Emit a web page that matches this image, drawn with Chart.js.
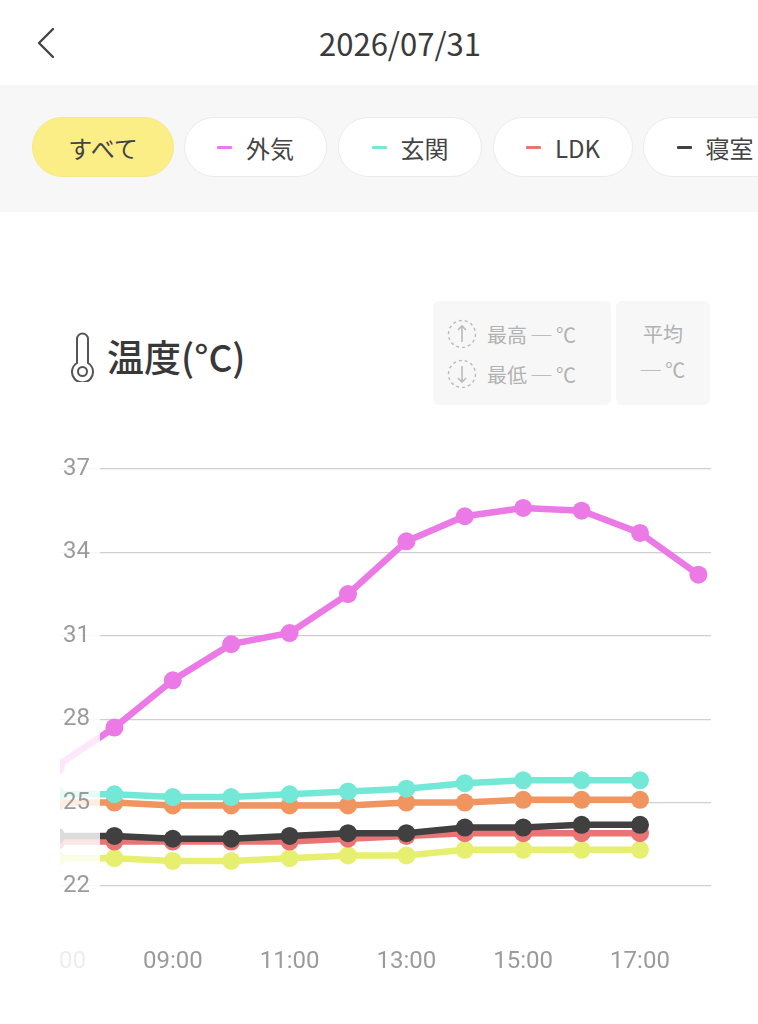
<!DOCTYPE html>
<html lang="ja">
<head>
<meta charset="utf-8">
<title>温度</title>
<script src="https://cdn.jsdelivr.net/npm/chart.js@4/dist/chart.umd.min.js"></script>
<style>
  html, body { margin: 0; padding: 0; }
  body {
    width: 758px; height: 1024px; overflow: hidden; position: relative;
    background: #fff; font-family: "Noto Sans CJK JP", "Noto Sans", sans-serif; color: #444;
  }
  .header { position: absolute; left: 0; top: 0; width: 758px; height: 85px; background: #fff; }
  .back { position: absolute; left: 34px; top: 26px; }
  .date { position: absolute; left: 0; width: 800px; top: 20px; text-align: center; font-size: 31px; color: #3a3a3a; }
  .filters { position: absolute; left: 0; top: 85px; width: 758px; height: 127px; background: #f7f7f7; }
  .pill {
    position: absolute; top: 32px; height: 60px; box-sizing: border-box; border-radius: 30px;
    background: #fff; border: 1.5px solid #ebebeb; display: flex; align-items: center; justify-content: center;
    font-size: 24px; color: #444; white-space: nowrap;
  }
  .pill.on { background: #fcee86; border-color: #f6e88a; }
  .pill i { display: inline-block; width: 15px; height: 3px; margin-right: 14px; border-radius: 1px; }
  .title { position: absolute; left: 107px; top: 331px; font-size: 37px; font-weight: 500; color: #383838; line-height: 50px; }
  .thermo { position: absolute; left: 68px; top: 332px; }
  .box { position: absolute; top: 301px; height: 104px; background: #f7f7f7; border-radius: 6px; color: #b2b2b2; font-size: 20px; }
  .row { position: absolute; left: 14px; display: flex; align-items: center; white-space: nowrap; }
  .row svg { margin-right: 10px; }
  .chartwrap { position: absolute; left: 0; top: 440px; width: 758px; height: 560px; }
</style>
</head>
<body>
<div class="header">
  <svg class="back" width="24" height="36" viewBox="0 0 24 36"><polyline points="19,3 5,17 19,31" fill="none" stroke="#444" stroke-width="2.4" stroke-linecap="round" stroke-linejoin="round"/></svg>
  <div class="date">2026/07/31</div>
</div>
<div class="filters">
  <div class="pill on" style="left:32px;width:142px">すべて</div>
  <div class="pill" style="left:184px;width:143px"><i style="background:#ec7ae6"></i>外気</div>
  <div class="pill" style="left:338px;width:144px"><i style="background:#74e8d6"></i>玄関</div>
  <div class="pill" style="left:493px;width:140px"><i style="background:#ea7474"></i>LDK</div>
  <div class="pill" style="left:643px;width:144px"><i style="background:#404040"></i>寝室</div>
</div>

<svg class="thermo" width="30" height="50" viewBox="0 0 30 50">
  <path d="M9,31 V7 a5.5,5.5 0 0 1 11,0 V31 a10.5,10.5 0 1 1 -11,0 Z" fill="none" stroke="#555" stroke-width="2"/>
  <circle cx="14.5" cy="39.5" r="4.5" fill="none" stroke="#555" stroke-width="2"/>
</svg>
<div class="title">温度(°C)</div>

<div class="box" style="left:433px;width:178px">
  <div class="row" style="top:18px">
    <svg width="30" height="30" viewBox="0 0 30 30"><circle cx="15" cy="15" r="13.5" fill="none" stroke="#bbb" stroke-width="1.4" stroke-dasharray="3 3"/><path d="M15,23 V7 M11,11 L15,7 L19,11" fill="none" stroke="#bbb" stroke-width="1.6"/></svg>
    最高 ─ ℃
  </div>
  <div class="row" style="top:58px">
    <svg width="30" height="30" viewBox="0 0 30 30"><circle cx="15" cy="15" r="13.5" fill="none" stroke="#bbb" stroke-width="1.4" stroke-dasharray="3 3"/><path d="M15,7 V23 M11,19 L15,23 L19,19" fill="none" stroke="#bbb" stroke-width="1.6"/></svg>
    最低 ─ ℃
  </div>
</div>
<div class="box" style="left:616px;width:94px;text-align:center">
  <div style="position:absolute;left:0;right:0;top:18px">平均</div>
  <div style="position:absolute;left:0;right:0;top:54px">─ ℃</div>
</div>

<div class="chartwrap"><canvas id="temp" width="758" height="560"></canvas></div>

<script>
// hours of the readings (07:00 .. 18:00)
const hours = [7, 8, 9, 10, 11, 12, 13, 14, 15, 16, 17, 18];
const tickHours = [7, 9, 11, 13, 15, 17];
const yTicks = [22, 25, 28, 31, 34, 37];

const outside = [26.3, 27.7, 29.4, 30.7, 31.1, 32.5, 34.4, 35.3, 35.6, 35.5, 34.7, 33.2];
const entrance = [25.3, 25.3, 25.2, 25.2, 25.3, 25.4, 25.5, 25.7, 25.8, 25.8, 25.8];
const roomOrange = [25.0, 25.0, 24.9, 24.9, 24.9, 24.9, 25.0, 25.0, 25.1, 25.1, 25.1];
const bedroom = [23.8, 23.8, 23.7, 23.7, 23.8, 23.9, 23.9, 24.1, 24.1, 24.2, 24.2];
const ldk = [23.6, 23.6, 23.6, 23.6, 23.6, 23.7, 23.8, 23.9, 23.9, 23.9, 23.9];
const roomYellow = [23.0, 23.0, 22.9, 22.9, 23.0, 23.1, 23.1, 23.3, 23.3, 23.3, 23.3];

function pts(values){
    return values.map((v, i) => ({x: hours[i], y: v}));
}

function series(label, values, color){
    return {
        label: label,
        data: pts(values),
        borderColor: color,
        backgroundColor: color,
        pointBackgroundColor: color,
        borderWidth: 6.5,
        pointRadius: 9,
        pointBorderWidth: 0,
        pointHoverRadius: 9,
        tension: 0,
        clip: false
    };
}

// left edge of the scrolled chart is faded out under the y labels
const edgeFade = {
    id: "edgeFade",
    afterDatasetsDraw(chart){
        const ctx = chart.ctx;
        ctx.save();
        ctx.fillStyle = "#fff";
        ctx.fillRect(0, 0, 60, chart.height);
        ctx.fillStyle = "rgba(255,255,255,0.82)";
        ctx.fillRect(60, 0, 40, chart.height);
        ctx.restore();
    }
};

const tickFont = {family: "Roboto, 'Noto Sans', sans-serif", size: 24};

new Chart(document.getElementById("temp"), {
    type: "line",
    data: {
        datasets: [
            series("外気", outside, "#ec7ae6"),
            series("玄関", entrance, "#74e8d6"),
            series("部屋", roomOrange, "#f0955f"),
            series("寝室", bedroom, "#404040"),
            series("LDK", ldk, "#ea7474"),
            series("部屋2", roomYellow, "#e6ef70")
        ]
    },
    options: {
        responsive: false,
        animation: false,
        events: [],
        layout: {padding: {left: 56, right: 47, top: 29, bottom: 0}},
        plugins: {legend: {display: false}, tooltip: {enabled: false}},
        scales: {
            x: {
                type: "linear",
                min: 7,
                max: 18.216,
                afterBuildTicks: (s) => { s.ticks = tickHours.map(v => ({value: v})); },
                afterFit: (s) => { s.height = 114; s.paddingLeft = 0; s.paddingRight = 0; },
                grid: {display: false, drawTicks: false},
                border: {display: false},
                ticks: {
                    autoSkip: false,
                    maxRotation: 0,
                    padding: 62,
                    color: "#9b9b9b",
                    font: tickFont,
                    callback: (v) => String(v).padStart(2, "0") + ":00"
                }
            },
            y: {
                min: 22,
                max: 37,
                afterBuildTicks: (s) => { s.ticks = yTicks.map(v => ({value: v})); },
                afterFit: (s) => { s.width = 0; s.paddingTop = 0; s.paddingBottom = 0; },
                grid: {color: "#d0d0d0", lineWidth: 1.2, drawTicks: false},
                border: {display: false},
                ticks: {
                    mirror: true,
                    crossAlign: "far",
                    padding: 7,
                    z: 1,
                    color: "#9b9b9b",
                    font: tickFont
                }
            }
        }
    },
    plugins: [edgeFade]
});
</script>
</body>
</html>
